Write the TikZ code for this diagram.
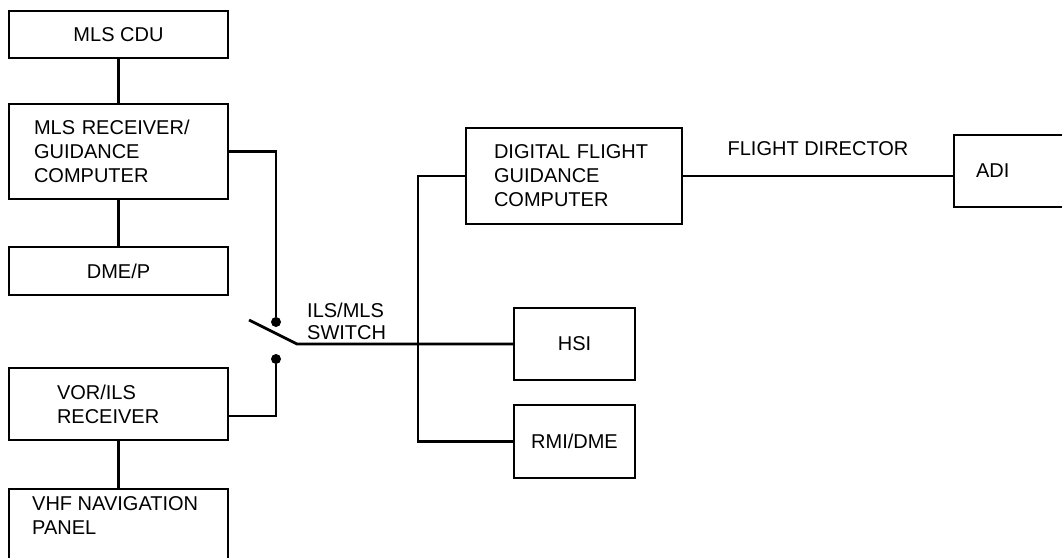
\documentclass[tikz,border=0pt]{standalone}
\usepackage{fontspec}
\setmainfont{Liberation Sans}
\usetikzlibrary{positioning,calc}

\begin{document}
\begin{tikzpicture}[
  x=1pt, y=-1pt,
  font=\fontsize{20}{24}\selectfont,
  box/.style={draw, line width=2pt, minimum width=219pt, align=center, inner sep=0pt},
  lbox/.style={draw, line width=2pt, align=left, inner ysep=0pt},
  txt/.style={inner sep=0pt, anchor=north west, align=left},
  wire/.style={line width=2.8pt},
  contact/.style={circle, fill, inner sep=0pt, minimum size=10pt},
]
\useasboundingbox (0,0) rectangle (1062,557);
\clip (0,0) rectangle (1062,557);

% Left column (MLS and ILS receivers)
\node[box, minimum height=47pt] (cdu) at (118.5,34.5) {MLS CDU};
\node[lbox, inner xsep=25pt, text width=169pt, minimum height=95pt] (mlsrx) at (118.5,151.5) {MLS RECEIVER/\\GUIDANCE\\COMPUTER};
\node[box, minimum height=48pt] (dmep) at (118.5,271) {DME/P};
\node[lbox, inner xsep=48pt, text width=123pt, minimum height=72pt] (vor) at (118.5,404) {VOR/ILS\\RECEIVER};
\node[box, minimum height=95pt, anchor=north] (vhf) at (118.5,488) {};
\node[txt] (vhftext) at (32,496) {VHF NAVIGATION\\PANEL};

% ILS/MLS switch
\coordinate (bladetip) at (249,320);
\coordinate (pivot) at (297,344);
\node[contact] (mlspole) at (276,322) {};
\node[contact] (ilspole) at (276,359) {};
\node[txt, font=\fontsize{20}{22}\selectfont] (swlabel) at (307,303) {ILS/MLS\\SWITCH};

% Right side (computer and displays)
\node[lbox, inner xsep=28pt, text width=160pt, minimum height=96pt] (dfgc) at (574,176) {DIGITAL FLIGHT\\GUIDANCE\\COMPUTER};
\node[lbox, inner xsep=22pt, text width=86pt, minimum height=72pt, anchor=west] (adi) at (953,171) {ADI};
\node[box, minimum width=121pt, minimum height=72pt] (hsi) at (574.5,344) {HSI};
\node[box, minimum width=121pt, minimum height=73pt] (rmi) at (574.5,441.5) {RMI/DME};
\coordinate (bus) at (418,344);

% Connectors
\foreach \a/\b in {cdu/mlsrx, mlsrx/dmep, vor/vhf}
  \draw[wire] (\a) -- (\b);
\draw[wire] (mlsrx.east) -| (mlspole);
\draw[wire] ([yshift=-12pt]vor.east) -| (ilspole);
\draw[wire] (bladetip) -- (pivot) -- (hsi.west);
\draw[wire] (dfgc.west) -| (bus) |- (rmi.west);
\draw[wire] (dfgc.east) -- node[above=19pt, inner sep=0pt] (fdlabel) {FLIGHT DIRECTOR} (dfgc.east -| adi.west);

\end{tikzpicture}
\end{document}
